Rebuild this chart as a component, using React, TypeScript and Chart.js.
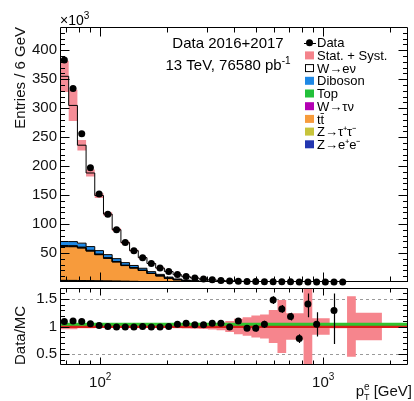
import React, { useEffect, useRef } from 'react';
import { Chart, registerables } from 'chart.js';

Chart.register(...registerables);

const FONT = "'Liberation Sans', Arial, Helvetica, sans-serif";
Chart.defaults.font.family = FONT;

// ---------- data ----------
const binEdges = [66.0, 72.2, 79.0, 86.4, 94.5, 103.4, 113.1, 123.8, 135.4, 148.1, 162.0, 177.3, 193.9, 212.2, 232.1, 253.9, 277.8, 303.9, 332.5, 363.7, 397.9, 435.3, 476.2, 521.0, 570.0, 623.5, 682.2, 746.3, 816.4, 893.2, 977.1, 1069, 1169, 1279, 1400, 1531, 1675, 1833, 2005, 2193, 2400];

// entries (x10^3)
const dataValues = [383, 334, 256, 197, 152, 117, 90, 68, 54, 42, 32, 24, 18, 13, 9.5, 7, 5, 3.7, 2.7, 1.9, 1.45, 1.0, 0.75, 0.55, 0.45, 0.32, 0.22, 0.12, 0.11, 0.07, 0, 0.04, 0];

const zeeValues = [2.5, 2.4, 2.2, 2.0, 1.8, 1.6, 1.4, 1.2, 1.0, 0.8, 0.6, 0.5, 0.4, 0.3, 0.2, 0.15, 0.1, 0.07, 0.05, 0.03, 0.02, 0.015, 0.01, 0.008, 0.005, 0.004, 0.003, 0.002, 0.001, 0.001, 0, 0, 0, 0, 0, 0, 0, 0, 0, 0];
const zttValues = [0.4, 0.4, 0.35, 0.3, 0.25, 0.2, 0.15, 0.12, 0.1, 0.08, 0.06, 0.04, 0.03, 0.02, 0.01, 0.01, 0.005, 0.003, 0.002, 0.001, 0, 0, 0, 0, 0, 0, 0, 0, 0, 0, 0, 0, 0, 0, 0, 0, 0, 0, 0, 0];
const ttbarValues = [58, 58, 56, 51, 45, 39, 33, 27, 23, 19, 14, 10, 6, 3.5, 2, 1.2, 0.7, 0.45, 0.3, 0.2, 0.12, 0.08, 0.05, 0.03, 0.02, 0.015, 0.01, 0.008, 0.005, 0.003, 0.002, 0.001, 0, 0, 0, 0, 0, 0, 0, 0];
const wtaunuValues = [0.8, 0.75, 0.65, 0.55, 0.45, 0.38, 0.3, 0.24, 0.19, 0.15, 0.11, 0.08, 0.06, 0.04, 0.03, 0.02, 0.014, 0.01, 0.007, 0.005, 0.003, 0.002, 0.001, 0, 0, 0, 0, 0, 0, 0, 0, 0, 0, 0, 0, 0, 0, 0, 0, 0];
const topValues = [1.2, 1.15, 1.05, 0.95, 0.85, 0.75, 0.65, 0.55, 0.45, 0.38, 0.3, 0.23, 0.17, 0.12, 0.09, 0.06, 0.04, 0.03, 0.02, 0.015, 0.01, 0.007, 0.005, 0.003, 0.002, 0.001, 0, 0, 0, 0, 0, 0, 0, 0, 0, 0, 0, 0, 0, 0];
const dibosonValues = [7, 7, 6.8, 6.3, 5.8, 5.3, 4.8, 4.3, 3.8, 3.3, 2.8, 2.3, 1.8, 1.3, 0.9, 0.6, 0.4, 0.28, 0.2, 0.14, 0.1, 0.07, 0.05, 0.035, 0.025, 0.018, 0.013, 0.009, 0.006, 0.004, 0.003, 0.002, 0.0015, 0.001, 0, 0, 0, 0, 0, 0];
const wenuValues = [285, 235, 169, 127, 95, 70, 50, 34.6, 25.5, 18.3, 14.1, 10.9, 9.5, 7.2, 5.8, 4.8, 3.6, 2.65, 1.97, 1.53, 1.07, 0.85, 0.65, 0.45, 0.27, 0.22, 0.17, 0.14, 0.075, 0.062, 0.046, 0.028, 0.023, 0.018, 0.014, 0.01, 0.008, 0, 0, 0];
const mcErrValues = [27, 27, 9, 6, 4, 3, 2.4, 1.9, 1.5, 1.2, 1, 0.8, 0.6, 0.45, 0.35, 0.3, 0.25, 0.2, 0.18, 0.15, 0.12, 0.1, 0.08, 0.06, 0.1, 0.1, 0.05, 0.04, 0.06, 0.01, 0.01, 0, 0, 0.01, 0, 0, 0, 0, 0, 0];

// ratio panel
const ratioValues = [1.09, 1.1, 1.09, 1.05, 1.02, 1.0, 0.99, 0.99, 0.99, 1.0, 0.99, 0.99, 1.0, 1.04, 1.06, 1.03, 1.03, 1.06, 1.06, 0.99, 1.1, 0.97, 0.97, 1.04, 1.48, 1.32, 1.18, 0.78, 1.41, 1.04, null, 1.29];
const ratioErrHi = [0.003, 0.003, 0.004, 0.004, 0.005, 0.005, 0.006, 0.007, 0.008, 0.009, 0.01, 0.012, 0.014, 0.016, 0.02, 0.022, 0.026, 0.03, 0.035, 0.04, 0.045, 0.05, 0.06, 0.065, 0.07, 0.07, 0.07, 0.08, 0.19, 0.22, 0, 0.31];
const ratioErrLo = [0.003, 0.003, 0.004, 0.004, 0.005, 0.005, 0.006, 0.007, 0.008, 0.009, 0.01, 0.012, 0.014, 0.016, 0.02, 0.022, 0.026, 0.03, 0.035, 0.04, 0.045, 0.05, 0.06, 0.065, 0.07, 0.07, 0.07, 0.08, 0.24, 0.22, 0, 0.61];
const ratioBandValues = [0.05, 0.05, 0.03, 0.03, 0.025, 0.02, 0.02, 0.02, 0.02, 0.02, 0.02, 0.02, 0.025, 0.03, 0.035, 0.04, 0.045, 0.055, 0.07, 0.1, 0.14, 0.17, 0.2, 0.22, 0.3, 0.48, 0.24, 0.24, 0.8, 0.15, 0.15, 0.03, 0.03, 0.55, 0.25, 0.25, 0.25, 0, 0, 0];
const greenLevel = 1.04;
const redLevel = 1.0;

// axes / labels
const xRange = [66, 2400];
const mainYRange = [0, 440];
const ratioYRange = [0.3, 1.7];
const mainYTicks = [50, 100, 150, 200, 250, 300, 350, 400];
const ratioYTicks = [0.5, 1, 1.5];
const xLabelTicks = [100, 1000];
const xLabelExps = ['2', '3'];
const headerText = ['Data 2016+2017', '13 TeV, 76580 pb'];
const lumiExp = '-1';
const legendLabels = ['Data', 'Stat. + Syst.', 'W\u2192e\u03bd', 'Diboson', 'Top', 'W\u2192\u03c4\u03bd', 'tt\u0304', 'Z\u2192\u03c4\u207a\u03c4\u207b', 'Z\u2192e\u207ae\u207b'];
const legendColors = ['#000000', '#f4838b', '#ffffff', '#1e88e5', '#22c03a', '#b300b3', '#f79b3c', '#c7c43a', '#2336b0'];

// stack order bottom -> top
const layerValues = [zeeValues, zttValues, ttbarValues, wtaunuValues, topValues, dibosonValues, wenuValues];
const layerColors = ['#2336b0', '#c7c43a', '#f79b3c', '#b300b3', '#22c03a', '#1e88e5', '#ffffff'];

// ---------- helpers ----------
const nBins = binEdges.length - 1;
const centers = binEdges.slice(0, -1).map((lo, i) => Math.sqrt(lo * binEdges[i + 1]));

function stepPoints(vals: number[]) {
  const pts = [];
  for (let i = 0; i < nBins; i++) pts.push({ x: binEdges[i], y: vals[i] ?? 0 });
  pts.push({ x: binEdges[nBins], y: vals[nBins - 1] ?? 0 });
  return pts;
}

type Part = { t: string; size: number; dy?: number; adv?: boolean };
function drawParts(ctx: CanvasRenderingContext2D, parts: Part[], x: number, y: number, align: string) {
  const widths = parts.map((p) => {
    ctx.font = `${p.size}px ${FONT}`;
    return ctx.measureText(p.t).width;
  });
  let total = 0;
  parts.forEach((p, i) => {
    if (p.adv !== false) total += widths[i];
  });
  let cx = align === 'left' ? x : align === 'right' ? x - total : x - total / 2;
  ctx.textAlign = 'left';
  ctx.textBaseline = 'alphabetic';
  parts.forEach((p, i) => {
    ctx.font = `${p.size}px ${FONT}`;
    ctx.fillText(p.t, cx, y + (p.dy || 0));
    if (p.adv !== false) cx += widths[i];
  });
}

function range(a: number, b: number, s: number) {
  const out: number[] = [];
  for (let v = a; v <= b + 1e-9; v += s) out.push(Math.round(v * 1000) / 1000);
  return out;
}

function makeFrame(id: string, opt: any) {
  return {
    id,
    afterDatasetsDraw(chart: any) {
      const { ctx, chartArea: a } = chart;
      const xs = chart.scales.x;
      const ys = chart.scales.y;
      ctx.save();
      ctx.strokeStyle = '#000';
      ctx.lineWidth = 1;
      ctx.beginPath();
      const L = a.left + 0.5, R = a.right - 0.5, T = a.top + 0.5, B = a.bottom - 0.5;
      ctx.rect(L, T, R - L, B - T);
      const yT = (list: number[], len: number) =>
        list.forEach((v) => {
          const y = Math.round(ys.getPixelForValue(v)) + 0.5;
          if (y < T - 0.1 || y > B + 0.1) return;
          ctx.moveTo(L, y); ctx.lineTo(L + len, y);
          ctx.moveTo(R, y); ctx.lineTo(R - len, y);
        });
      const xT = (list: number[], len: number) =>
        list.forEach((v) => {
          const x = Math.round(xs.getPixelForValue(v)) + 0.5;
          ctx.moveTo(x, B); ctx.lineTo(x, B - len);
          ctx.moveTo(x, T); ctx.lineTo(x, T + len);
        });
      yT(opt.yMajor, opt.yMajLen);
      yT(opt.yMinor, opt.yMinLen);
      xT(opt.xMajor, opt.xMajLen);
      xT(opt.xMinor, opt.xMinLen);
      ctx.stroke();
      ctx.restore();
    },
  };
}

const xMinorTicks = [70, 80, 90, 200, 300, 400, 500, 600, 700, 800, 900, 2000];

// ---------- main chart ----------
function mainConfig(): any {
  const cum: number[][] = [];
  let run = new Array(nBins).fill(0);
  for (const l of layerValues) {
    run = run.map((r, i) => r + (l[i] ?? 0));
    cum.push(run);
  }
  const total = cum[cum.length - 1];
  const bandUp = total.map((t, i) => t + (mcErrValues[i] ?? 0));
  const bandLo = total.map((t, i) => Math.max(0, t - (mcErrValues[i] ?? 0)));

  const datasets: any[] = [];
  datasets.push({
    type: 'line',
    data: dataValues.map((v, i) => ({ x: centers[i], y: v })),
    showLine: false,
    pointRadius: 3.5,
    pointBackgroundColor: '#000',
    pointBorderWidth: 0,
    pointBorderColor: '#000',
    clip: false,
  });
  datasets.push({
    type: 'line', data: stepPoints(bandUp), stepped: true, borderWidth: 0, borderColor: 'transparent',
    backgroundColor: 'rgba(240,80,95,0.65)', fill: '+1', pointRadius: 0,
  });
  datasets.push({
    type: 'line', data: stepPoints(bandLo), stepped: true, borderWidth: 0, borderColor: 'transparent',
    fill: false, pointRadius: 0,
  });
  for (let j = layerValues.length - 1; j >= 0; j--) {
    datasets.push({
      type: 'line',
      data: stepPoints(cum[j]),
      stepped: true,
      borderColor: '#000',
      borderWidth: 1,
      backgroundColor: layerColors[j],
      fill: j > 0 ? '+1' : 'origin',
      pointRadius: 0,
    });
  }

  const framePlugin = makeFrame('mainFrame', {
    yMajor: range(0, 400, 50), yMajLen: 9,
    yMinor: range(10, 430, 10).filter((v) => v % 50 !== 0), yMinLen: 4.5,
    xMajor: xLabelTicks, xMajLen: 9,
    xMinor: xMinorTicks, xMinLen: 5,
  });

  const textPlugin = {
    id: 'mainText',
    afterDraw(chart: any) {
      const ctx = chart.ctx as CanvasRenderingContext2D;
      ctx.save();
      ctx.fillStyle = '#000';
      drawParts(ctx, [{ t: '\u00d710', size: 14 }, { t: '3', size: 10, dy: -6 }], 60, 25, 'left');
      drawParts(ctx, [{ t: headerText[0], size: 15 }], 228, 48, 'center');
      drawParts(ctx, [{ t: headerText[1], size: 15 }, { t: lumiExp, size: 10, dy: -6 }], 228, 70, 'center');
      legendLabels.forEach((lab, i) => {
        const cy = 42.7 + i * 12.7;
        if (i === 0) {
          ctx.strokeStyle = '#000';
          ctx.lineWidth = 1;
          ctx.beginPath();
          ctx.moveTo(304, Math.round(cy) + 0.5);
          ctx.lineTo(316, Math.round(cy) + 0.5);
          ctx.stroke();
          ctx.beginPath();
          ctx.arc(309.5, cy, 3.5, 0, Math.PI * 2);
          ctx.fillStyle = '#000';
          ctx.fill();
        } else {
          ctx.fillStyle = legendColors[i];
          ctx.fillRect(305, cy - 4, 9, 8);
          if (legendColors[i] === '#ffffff') {
            ctx.strokeStyle = '#000';
            ctx.lineWidth = 1;
            ctx.strokeRect(305.5, cy - 3.5, 8, 7);
          }
        }
        ctx.fillStyle = '#000';
        drawParts(ctx, [{ t: lab, size: 13 }], 317, cy + 4.6, 'left');
      });
      ctx.restore();
    },
  };

  return {
    type: 'line',
    data: { datasets },
    options: {
      animation: false,
      responsive: false,
      maintainAspectRatio: false,
      devicePixelRatio: 1,
      events: [],
      layout: { padding: { left: 0, top: 27, right: 6, bottom: 3 } },
      plugins: {
        legend: { display: false },
        tooltip: { enabled: false },
        filler: { drawTime: 'beforeDatasetsDraw' },
      },
      scales: {
        x: { type: 'logarithmic', min: xRange[0], max: xRange[1], display: false },
        y: {
          type: 'linear',
          min: mainYRange[0],
          max: mainYRange[1],
          afterBuildTicks: (s: any) => { s.ticks = mainYTicks.map((v) => ({ value: v })); },
          afterFit: (s: any) => { s.width = 60; s.paddingTop = 0; s.paddingBottom = 0; },
          grid: { display: false, drawTicks: false },
          border: { display: false },
          ticks: { padding: 3, color: '#111', font: { size: 15, family: FONT }, callback: (v: any) => String(v) },
          title: { display: true, text: 'Entries / 6 GeV', align: 'end', color: '#111', font: { size: 15, family: FONT }, padding: { top: 12, bottom: 0 } },
        },
      },
    },
    plugins: [framePlugin, textPlugin],
  };
}

// ---------- ratio chart ----------
function ratioConfig(): any {
  const bandUp = ratioBandValues.map((e) => 1 + e);
  const bandLo = ratioBandValues.map((e) => 1 - e);
  const pts: any[] = [];
  ratioValues.forEach((v, i) => {
    if (v !== null) pts.push({ x: centers[i], y: v, i });
  });

  const datasets: any[] = [
    {
      type: 'line', data: pts, showLine: false, pointRadius: 3.5, pointBackgroundColor: '#000',
      pointBorderWidth: 0, pointBorderColor: '#000',
    },
    {
      type: 'line', data: [{ x: xRange[0], y: greenLevel }, { x: xRange[1], y: greenLevel }],
      borderColor: '#2fc42f', borderWidth: 3, pointRadius: 0, fill: false,
    },
    {
      type: 'line', data: [{ x: xRange[0], y: redLevel }, { x: xRange[1], y: redLevel }],
      borderColor: '#d81b1b', borderWidth: 3, pointRadius: 0, fill: false,
    },
    {
      type: 'line', data: stepPoints(bandUp), stepped: true, borderWidth: 0, borderColor: 'transparent',
      backgroundColor: '#f6858d', fill: '+1', pointRadius: 0,
    },
    {
      type: 'line', data: stepPoints(bandLo), stepped: true, borderWidth: 0, borderColor: 'transparent',
      fill: false, pointRadius: 0,
    },
  ];

  const framePlugin = makeFrame('ratioFrame', {
    yMajor: ratioYTicks, yMajLen: 9,
    yMinor: range(0.3, 1.7, 0.1).filter((v) => !ratioYTicks.includes(v)), yMinLen: 4.5,
    xMajor: xLabelTicks, xMajLen: 7,
    xMinor: xMinorTicks, xMinLen: 4,
  });

  const gridPlugin = {
    id: 'ratioGrid',
    beforeDraw(chart: any) {
      const { ctx, chartArea: a } = chart;
      const ys = chart.scales.y;
      ctx.save();
      ctx.strokeStyle = '#9a9a9a';
      ctx.lineWidth = 1;
      ctx.setLineDash([3, 3]);
      ctx.beginPath();
      [0.5, 1.5].forEach((v) => {
        const y = Math.round(ys.getPixelForValue(v)) + 0.5;
        ctx.moveTo(a.left, y);
        ctx.lineTo(a.right, y);
      });
      ctx.stroke();
      ctx.restore();
    },
  };

  const errPlugin = {
    id: 'ratioErr',
    afterDatasetsDraw(chart: any) {
      const { ctx, chartArea: a } = chart;
      const xs = chart.scales.x;
      const ys = chart.scales.y;
      ctx.save();
      ctx.beginPath();
      ctx.rect(a.left, a.top, a.right - a.left, a.bottom - a.top);
      ctx.clip();
      ctx.strokeStyle = '#000';
      ctx.lineWidth = 1.2;
      ctx.beginPath();
      ratioValues.forEach((v, i) => {
        if (v === null) return;
        const x = Math.round(xs.getPixelForValue(centers[i])) + 0.5;
        ctx.moveTo(x, ys.getPixelForValue(v + ratioErrHi[i]));
        ctx.lineTo(x, ys.getPixelForValue(v - ratioErrLo[i]));
      });
      ctx.stroke();
      ctx.restore();
    },
    afterDraw(chart: any) {
      const ctx = chart.ctx as CanvasRenderingContext2D;
      const xs = chart.scales.x;
      ctx.save();
      ctx.fillStyle = '#111';
      xLabelTicks.forEach((v, i) => {
        const x = xs.getPixelForValue(v);
        drawParts(ctx, [{ t: '10', size: 15 }, { t: xLabelExps[i], size: 10, dy: -7 }], x, 103, 'center');
      });
      drawParts(
        ctx,
        [
          { t: 'p', size: 15 },
          { t: 'e', size: 10, dy: -6, adv: false },
          { t: 'T', size: 9, dy: 4 },
          { t: ' [GeV]', size: 15 },
        ],
        412, 112, 'right'
      );
      ctx.restore();
    },
  };

  return {
    type: 'line',
    data: { datasets },
    options: {
      animation: false,
      responsive: false,
      maintainAspectRatio: false,
      devicePixelRatio: 1,
      events: [],
      layout: { padding: { left: 0, top: 2, right: 6, bottom: 36 } },
      plugins: {
        legend: { display: false },
        tooltip: { enabled: false },
        filler: { drawTime: 'beforeDatasetsDraw' },
      },
      scales: {
        x: { type: 'logarithmic', min: xRange[0], max: xRange[1], display: false },
        y: {
          type: 'linear',
          min: ratioYRange[0],
          max: ratioYRange[1],
          afterBuildTicks: (s: any) => { s.ticks = ratioYTicks.map((v) => ({ value: v })); },
          afterFit: (s: any) => { s.width = 60; s.paddingTop = 0; s.paddingBottom = 0; },
          grid: { display: false, drawTicks: false },
          border: { display: false },
          ticks: { padding: 3, color: '#111', font: { size: 15, family: FONT }, callback: (v: any) => String(v) },
          title: { display: true, text: 'Data/MC', align: 'start', color: '#111', font: { size: 15, family: FONT }, padding: { top: 12, bottom: 0 } },
        },
      },
    },
    plugins: [gridPlugin, framePlugin, errPlugin],
  };
}

export default function App() {
  const mainRef = useRef<HTMLCanvasElement>(null);
  const ratioRef = useRef<HTMLCanvasElement>(null);
  useEffect(() => {
    const c1 = new Chart(mainRef.current as HTMLCanvasElement, mainConfig());
    const c2 = new Chart(ratioRef.current as HTMLCanvasElement, ratioConfig());
    return () => {
      c1.destroy();
      c2.destroy();
    };
  }, []);
  return (
    <div style={{ position: 'absolute', left: 0, top: 0, width: 414, height: 401, background: '#fff' }}>
      <canvas ref={mainRef} width={414} height={286} style={{ position: 'absolute', left: 0, top: 0, width: 414, height: 286 }} />
      <canvas ref={ratioRef} width={414} height={117} style={{ position: 'absolute', left: 0, top: 284, width: 414, height: 117 }} />
    </div>
  );
}
